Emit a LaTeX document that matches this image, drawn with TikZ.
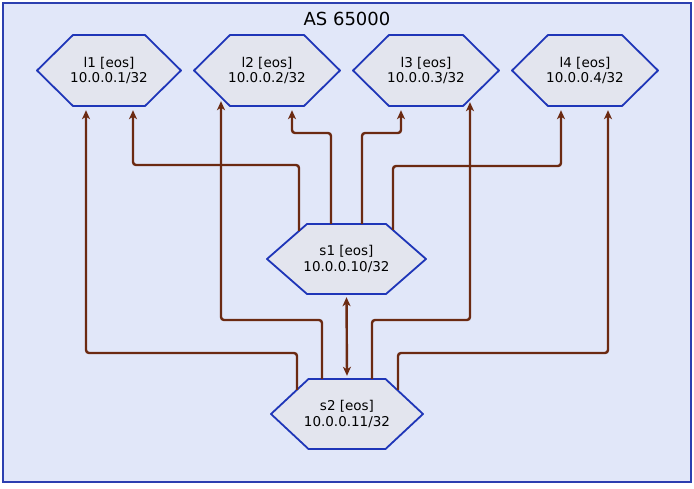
\documentclass[tikz,border=0pt]{standalone}
\usepackage{fontspec}
\setmainfont{DejaVu Sans}
\usetikzlibrary{arrows.meta}
\definecolor{boxfill}{HTML}{E1E7F9}
\definecolor{boxline}{HTML}{2B3FB0}
\definecolor{hexfill}{HTML}{E3E5EE}
\definecolor{hexline}{HTML}{1F36B8}
\definecolor{linkcol}{HTML}{6B2A12}
\tikzset{
  asbox/.style={draw=boxline, fill=boxfill, line width=2pt},
  hexshape/.style={draw=hexline, fill=hexfill, line width=1.8pt, line join=round},
  hextext/.style={draw=none, inner sep=0pt, align=center, font=\fontsize{13.5}{15.5}\selectfont, text=black},
  title/.style={font=\fontsize{18}{20}\selectfont, text=black},
  tip/.style={Stealth[length=9pt,width=8pt,inset=2.5pt]},
  link/.style={draw=linkcol, line width=2.4pt, rounded corners=3pt, -{Stealth[length=9pt,width=8pt,inset=2.5pt]}},
  duallink/.style={draw=linkcol, line width=2.4pt, {Stealth[length=9pt,width=8pt,inset=2.5pt]}-{Stealth[length=9pt,width=8pt,inset=2.5pt]}},
}
\newcommand\hexnode[7]{%
  \path[hexshape] (#2-#4/2,#3) -- (#2-#4/2+#6,#3-#5/2) -- (#2+#4/2-#6,#3-#5/2)
     -- (#2+#4/2,#3) -- (#2+#4/2-#6,#3+#5/2) -- (#2-#4/2+#6,#3+#5/2) -- cycle;
  \node[hextext, minimum width=#4pt, minimum height=#5pt] (#1) at (#2,#3) {#7};}
\begin{document}
\begin{tikzpicture}[x=1pt,y=-1pt]
\useasboundingbox (0,0) rectangle (694,489);
\path[asbox] (3,3) rectangle (691,482);
\node[title] (as) at (347,19) {AS 65000};

\hexnode{l1}{109}{70.5}{144}{71}{36}{l1 [eos]\\10.0.0.1/32}
\hexnode{l2}{267}{70.5}{146}{71}{36}{l2 [eos]\\10.0.0.2/32}
\hexnode{l3}{426}{70.5}{146}{71}{36}{l3 [eos]\\10.0.0.3/32}
\hexnode{l4}{585}{70.5}{146}{71}{36}{l4 [eos]\\10.0.0.4/32}
\hexnode{s1}{346.5}{259}{159}{70}{40}{s1 [eos]\\10.0.0.10/32}
\hexnode{s2}{347}{414}{152}{70}{37.5}{s2 [eos]\\10.0.0.11/32}

% s1 uplinks
\coordinate (a0) at ([xshift=-47.5pt,yshift=-7pt]s1.north);
\coordinate (a1) at ([xshift=24pt,yshift=-4pt]l1.south);
\coordinate (b0) at ([xshift=-15.5pt]s1.north);
\coordinate (b1) at ([xshift=25pt,yshift=-4pt]l2.south);
\coordinate (c0) at ([xshift=15.5pt]s1.north);
\coordinate (c1) at ([xshift=-25pt,yshift=-4pt]l3.south);
\coordinate (d0) at ([xshift=46.5pt,yshift=-6pt]s1.north);
\coordinate (d1) at ([xshift=-24pt,yshift=-4pt]l4.south);
% s2 uplinks
\coordinate (e0) at ([xshift=-50pt,yshift=-11pt]s2.north);
\coordinate (e1) at ([xshift=-23pt,yshift=-4pt]l1.south);
\coordinate (f0) at ([xshift=-25pt]s2.north);
\coordinate (f1) at ([xshift=-46pt,yshift=5pt]l2.south);
\coordinate (g0) at ([xshift=25pt]s2.north);
\coordinate (g1) at ([xshift=44pt,yshift=4pt]l3.south);
\coordinate (h0) at ([xshift=51pt,yshift=-11pt]s2.north);
\coordinate (h1) at ([xshift=23pt,yshift=-4pt]l4.south);

\draw[link] (a0) -- (a0 |- 0,165) -| (a1);
\draw[link] (b0) -- (b0 |- 0,133) -| (b1);
\draw[link] (c0) -- (c0 |- 0,133) -| (c1);
\draw[link] (d0) -- (d0 |- 0,166) -| (d1);
\draw[link] (e0) -- (e0 |- 0,353) -| (e1);
\draw[link] (f0) -- (f0 |- 0,320) -| (f1);
\draw[link] (g0) -- (g0 |- 0,320) -| (g1);
\draw[link] (h0) -- (h0 |- 0,353) -| (h1);
\draw[duallink] ([yshift=-3pt]s1.south) -- ([yshift=3pt]s2.north);
\end{tikzpicture}
\end{document}
